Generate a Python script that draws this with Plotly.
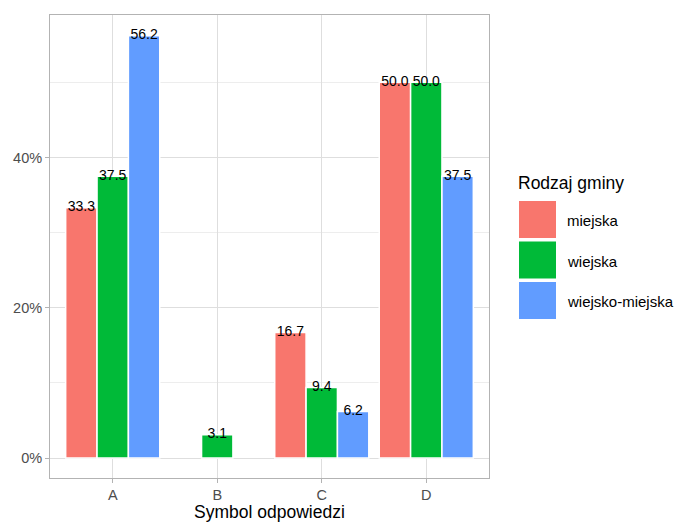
import plotly.graph_objects as go

categories = ["A", "B", "C", "D"]
series_names = ["miejska", "wiejska", "wiejsko-miejska"]
series_colors = ["#F8766D", "#00BA38", "#619CFF"]
miejska = [33.3, None, 16.7, 50.0]
wiejska = [37.5, 3.1, 9.4, 50.0]
wiejsko_miejska = [56.2, None, 6.2, 37.5]
series_values = [miejska, wiejska, wiejsko_miejska]
y_tick_vals = [0, 20, 40]
y_tick_labels = ["0%", "20%", "40%"]

W, H = 675, 522
L, R, T, B = 50, 186, 15, 44
FONT = "Liberation Sans, Arial, sans-serif"

fig = go.Figure()
bar_w = 0.9 / len(series_names)
for j, (name, vals, col) in enumerate(zip(series_names, series_values, series_colors)):
    off = (j - (len(series_names) - 1) / 2) * bar_w
    xs = [i + 1 + off for i in range(len(categories))]
    fig.add_trace(go.Bar(
        x=xs, y=vals, width=bar_w, name=name,
        marker=dict(color=col, line=dict(color="white", width=1.5)),
        showlegend=False, hoverinfo="skip"))
    tx = [x for x, v in zip(xs, vals) if v is not None]
    ty = [v for v in vals if v is not None]
    fig.add_trace(go.Scatter(
        x=tx, y=ty, mode="text", text=[f"{v:.1f}" for v in ty],
        textposition="middle center",
        textfont=dict(color="black", size=14, family=FONT),
        showlegend=False, hoverinfo="skip", cliponaxis=False))

pw, ph = W - L - R, H - T - B
def px_x(p):
    return (p - L) / pw
def px_y(p):
    return (H - B - p) / ph

# x axis title
fig.add_annotation(xref="paper", yref="paper", x=0.5, y=px_y(512),
                   text="Symbol odpowiedzi", showarrow=False, xanchor="center", yanchor="middle",
                   font=dict(size=17.5, color="black", family=FONT))

# manual ggplot-style legend
fig.add_annotation(xref="paper", yref="paper", x=px_x(516), y=px_y(183),
                   text="Rodzaj gminy", showarrow=False, xanchor="left", yanchor="middle",
                   font=dict(size=17.5, color="black", family=FONT))
for k, (name, col) in enumerate(zip(series_names, series_colors)):
    top = 201 + k * 40.5
    fig.add_shape(type="rect", xref="paper", yref="paper",
                  x0=px_x(519), x1=px_x(556), y0=px_y(top), y1=px_y(top + 37),
                  fillcolor=col, line=dict(width=0))
    fig.add_annotation(xref="paper", yref="paper", x=px_x(565), y=px_y(top + 19.5),
                       text=name, showarrow=False, xanchor="left", yanchor="middle",
                       font=dict(size=15, color="black", family=FONT))

fig.update_layout(
    width=W, height=H,
    margin=dict(l=L, r=R, t=T, b=B, pad=0, autoexpand=False),
    plot_bgcolor="white", paper_bgcolor="white",
    barmode="overlay", showlegend=False,
    font=dict(family=FONT),
)
fig.update_xaxes(
    range=[0.4, 4.6], tickvals=[1, 2, 3, 4], ticktext=categories,
    showgrid=True, gridcolor="#DEDEDE", gridwidth=1,
    zeroline=False, showline=True, linecolor="#B3B3B3", linewidth=1, mirror=True,
    ticks="outside", ticklen=4, tickcolor="#B3B3B3", automargin=False,
    tickfont=dict(size=14.5, color="#4D4D4D", family=FONT),
)
fig.update_yaxes(
    range=[-2.66, 58.96], tickvals=y_tick_vals, ticktext=y_tick_labels,
    showgrid=True, gridcolor="#DEDEDE", gridwidth=1,
    minor=dict(tickvals=[10, 30, 50], showgrid=True, gridcolor="#EDEDED", gridwidth=1, ticklen=0),
    zeroline=False, showline=True, linecolor="#B3B3B3", linewidth=1, mirror=True,
    ticks="outside", ticklen=4, tickcolor="#B3B3B3", automargin=False,
    tickfont=dict(size=14.5, color="#4D4D4D", family=FONT),
)

fig.write_html("out.html", config={"displayModeBar": False},
               post_script="document.body.style.margin='0';document.body.style.overflow='hidden';")
